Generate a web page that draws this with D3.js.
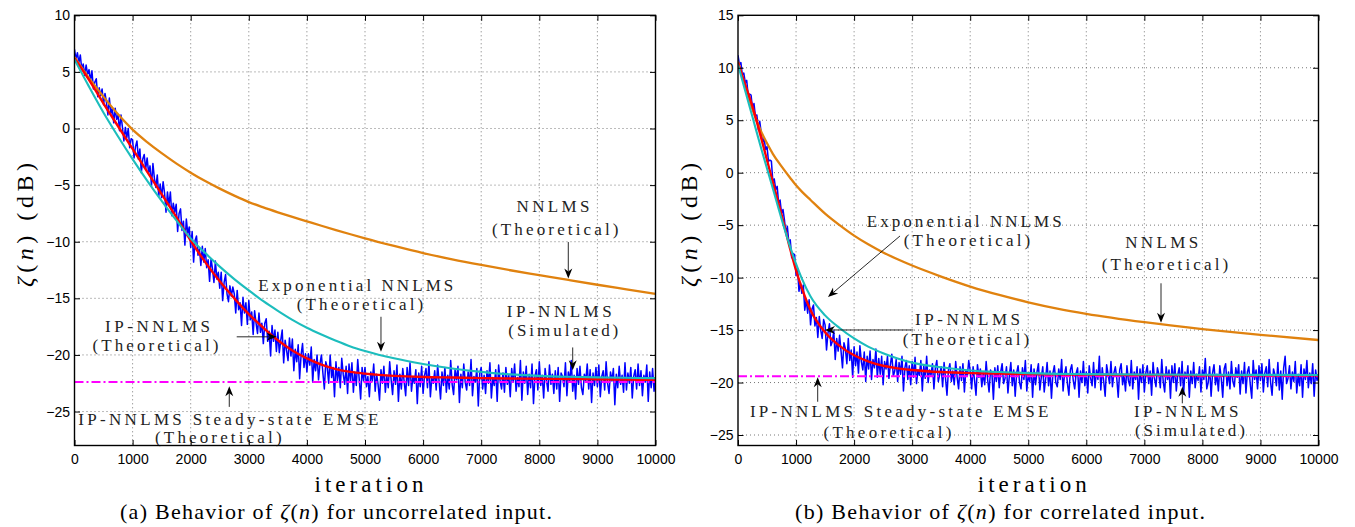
<!DOCTYPE html>
<html><head><meta charset="utf-8">
<script src="https://cdn.jsdelivr.net/npm/d3@7"></script>
<style>
body{margin:0;background:#fff;}
svg{display:block;}
</style></head><body>
<svg id="chart" width="1355" height="527"></svg>
<script>
// ---------------- DATA ----------------
const xTicks = [0,1000,2000,3000,4000,5000,6000,7000,8000,9000,10000];
const yTicksA = [10,5,0,-5,-10,-15,-20,-25];
const yTicksB = [15,10,5,0,-5,-10,-15,-20,-25];
const simStep = 25; // simulated curve sampled every 25 iterations

// Panel (a): uncorrelated input
const theoryIterA = [0,250,500,750,1000,1250,1500,1750,2000,2250,2500,2750,3000,3250,3500,3750,4000,4250,4500,4750,5000,5500,6000,6500,7000,7500,8000,8500,9000,9500,10000];
const nnlmsA = [6.3,4.45,2.8,1.25,-0.1,-1.2,-2.18,-3.08,-3.9,-4.64,-5.31,-5.93,-6.5,-6.97,-7.4,-7.81,-8.2,-8.59,-8.97,-9.34,-9.7,-10.37,-11.0,-11.55,-12.05,-12.52,-12.95,-13.38,-13.8,-14.2,-14.6];
const expNnlmsA = [6.1,3.7,1.4,-0.7,-2.7,-4.6,-6.4,-8.1,-9.7,-11.0,-12.2,-13.3,-14.3,-15.25,-16.1,-16.9,-17.6,-18.2,-18.75,-19.25,-19.65,-20.3,-20.8,-21.2,-21.5,-21.72,-21.85,-21.93,-21.98,-22.02,-22.05];
const ipNnlmsA = [6.2,4.3,2.2,0.2,-1.8,-3.8,-5.8,-7.8,-9.9,-11.8,-13.5,-15.0,-16.4,-17.6,-18.7,-19.6,-20.3,-20.85,-21.25,-21.5,-21.65,-21.85,-21.95,-22.0,-22.05,-22.08,-22.1,-22.13,-22.15,-22.18,-22.2];
const steadyA = -22.4;
const simA = [
7.0,6.1,6.7,5.8,6.5,5.2,5.7,4.7,5.6,4.8,
5.2,4.2,5.1,3.5,4.1,4.4,2.8,3.6,2.9,3.5,
2.1,3.1,2.3,1.2,2.7,1.3,1.8,0.5,1.8,0.8,
1.2,-0.2,1.2,0.1,-1.1,0.1,-0.8,0.0,-1.7,-0.9,
-1.0,-2.6,-1.6,-1.1,-2.7,-1.8,-3.9,-2.7,-2.3,-3.6,
-2.6,-3.9,-3.3,-5.1,-3.1,-4.4,-5.2,-4.1,-6.0,-4.9,
-6.1,-4.7,-5.7,-7.4,-5.6,-6.8,-5.6,-7.7,-6.6,-7.4,
-6.7,-9.1,-7.5,-7.1,-9.0,-8.2,-10.3,-8.0,-9.3,-8.7,
-10.5,-9.1,-11.8,-9.9,-9.5,-11.2,-10.6,-12.1,-10.4,-11.8,
-10.6,-12.3,-11.6,-13.5,-11.5,-12.4,-13.6,-11.7,-13.3,-12.7,
-14.1,-12.7,-15.2,-13.6,-12.9,-14.6,-15.3,-13.9,-14.8,-14.0,
-14.6,-16.3,-14.3,-16.0,-15.4,-17.4,-14.9,-16.3,-15.4,-17.3,
-15.2,-16.9,-16.2,-18.2,-16.1,-17.2,-18.1,-16.3,-18.0,-17.2,
-19.0,-17.2,-16.8,-18.8,-17.9,-20.1,-17.4,-18.8,-17.8,-19.7,
-18.0,-19.8,-18.7,-17.8,-20.7,-18.7,-19.6,-20.5,-18.5,-20.1,
-18.6,-21.4,-19.5,-20.6,-19.1,-22.1,-20.0,-19.0,-21.1,-19.9,
-21.5,-19.9,-20.9,-19.3,-22.4,-20.4,-21.4,-20.0,-22.2,-20.8,
-20.0,-21.6,-23.0,-20.6,-21.1,-22.5,-20.0,-22.0,-21.1,-23.7,
-20.6,-22.3,-21.1,-22.9,-20.3,-21.7,-22.6,-21.0,-23.4,-20.8,
-22.4,-20.7,-23.3,-21.5,-22.7,-20.4,-22.1,-23.9,-21.1,-22.3,
-21.1,-22.8,-21.9,-23.7,-21.5,-22.3,-20.8,-23.2,-21.7,-22.6,
-24.0,-21.3,-22.5,-21.0,-23.3,-21.8,-22.9,-20.6,-22.2,-23.5,
-21.4,-22.6,-20.9,-24.1,-21.7,-23.0,-21.2,-22.4,-23.6,-21.1,
-22.7,-20.7,-23.2,-21.9,-22.5,-21.3,-24.3,-21.6,-22.8,-21.0,
-23.4,-21.8,-21.2,-22.9,-20.6,-23.7,-22.0,-22.5,-21.4,-23.1,
-20.9,-22.3,-23.9,-21.5,-22.7,-21.1,-23.3,-21.8,-23.0,-20.5,
-22.6,-23.5,-21.3,-22.2,-21.0,-24.2,-21.7,-22.9,-20.8,-22.4,
-23.1,-21.5,-22.7,-20.4,-23.6,-21.9,-22.4,-21.2,-24.5,-21.6,
-21.1,-23.0,-21.8,-23.4,-21.4,-22.5,-20.7,-23.8,-22.0,-22.7,
-21.3,-24.1,-20.9,-22.3,-23.0,-21.6,-23.3,-21.1,-22.6,-21.8,
-23.7,-21.2,-22.4,-20.8,-23.2,-22.0,-22.8,-20.5,-24.0,-21.5,
-22.5,-21.0,-23.5,-21.7,-22.9,-20.8,-24.3,-21.9,-21.3,-23.1,
-20.6,-22.7,-21.8,-23.8,-21.2,-22.3,-23.2,-20.9,-22.6,-21.7,
-23.4,-21.4,-23.0,-21.1,-24.1,-21.6,-21.9,-22.8,-20.7,-23.6,
-21.5,-22.4,-20.5,-23.2,-21.8,-23.9,-21.2,-22.6,-21.0,-22.9,
-23.5,-21.7,-22.3,-20.8,-23.0,-21.3,-24.2,-21.6,-22.7,-21.1,
-22.8,-20.9,-23.7,-21.9,-21.4,-23.1,-20.6,-22.5,-23.4,-21.5,
-22.3,-21.2,-24.4,-21.7,-22.9,-21.0,-22.6,-21.8,-23.3,-20.7,
-23.1,-21.6,-22.5,-21.1,-23.8,-21.9,-21.3,-23.0,-20.8,-22.7,
-21.4,-23.6,-21.8,-22.4,-20.9,-24.1,-21.5,-22.9,-21.2,-23.2,
-22.0];

// Panel (b): correlated input
const theoryIterB = [0,100,250,400,500,600,750,900,1000,1100,1250,1500,1750,2000,2250,2500,2750,3000,3500,4000,4500,5000,5500,6000,7000,8000,9000,10000];
const nnlmsB = [10.6,8.7,6.0,3.9,2.8,1.8,0.6,-0.5,-1.2,-1.8,-2.6,-3.9,-5.0,-6.0,-6.85,-7.6,-8.25,-8.85,-9.9,-10.85,-11.65,-12.35,-12.95,-13.45,-14.25,-14.9,-15.45,-15.95];
const expNnlmsB = [10.3,8.3,5.3,2.3,0.4,-1.5,-4.4,-7.1,-8.7,-10.1,-11.8,-13.6,-14.8,-15.8,-16.6,-17.2,-17.7,-18.1,-18.55,-18.85,-19.0,-19.1,-19.17,-19.2,-19.24,-19.26,-19.27,-19.28];
const ipNnlmsB = [10.5,8.8,6.3,3.3,1.2,-0.9,-4.0,-7.3,-9.3,-11.0,-13.1,-15.2,-16.5,-17.4,-18.0,-18.4,-18.65,-18.8,-19.0,-19.1,-19.15,-19.2,-19.22,-19.25,-19.28,-19.3,-19.3,-19.3];
const steadyB = -19.4;
const simB = [
11.2,10.3,10.5,9.3,9.5,8.6,8.8,7.4,7.5,7.4,
6.1,6.6,5.4,5.5,4.1,4.9,3.8,2.9,3.3,2.2,
2.5,1.1,1.2,1.1,-0.8,-0.6,-1.6,-1.3,-2.9,-2.6,
-3.9,-3.5,-4.5,-5.8,-5.1,-6.6,-6.4,-8.1,-7.7,-7.8,
-9.8,-9.1,-11.3,-10.5,-11.5,-10.7,-13.1,-12.1,-13.4,-12.1,
-14.5,-13.0,-12.6,-14.6,-13.8,-15.7,-13.7,-15.0,-15.8,-14.0,
-14.5,-16.9,-15.3,-14.4,-16.5,-16.1,-15.1,-17.8,-15.8,-17.0,
-15.5,-17.0,-18.6,-16.2,-16.8,-18.2,-15.8,-17.9,-16.9,-19.5,
-16.6,-18.4,-17.1,-19.1,-16.5,-18.0,-18.8,-17.1,-19.9,-17.5,
-18.7,-17.0,-19.7,-17.8,-18.6,-16.8,-19.5,-17.7,-19.2,-17.5,
-20.2,-18.0,-18.7,-17.5,-19.6,-18.3,-17.3,-19.4,-18.9,-17.8,
-19.9,-18.1,-19.2,-17.5,-20.8,-18.6,-17.9,-19.7,-18.4,-20.2,
-18.0,-19.5,-17.6,-20.1,-18.8,-19.3,-17.9,-20.8,-18.4,-19.6,
-17.5,-20.0,-18.8,-19.3,-18.2,-20.6,-18.6,-17.9,-19.9,-19.2,
-18.5,-20.4,-18.1,-19.6,-21.2,-18.8,-18.2,-19.9,-18.9,-20.2,
-18.0,-19.5,-20.6,-18.5,-19.8,-18.2,-20.9,-18.8,-19.4,-17.9,
-18.9,-20.6,-18.5,-19.8,-21.2,-18.3,-19.5,-18.7,-20.4,-19.1,
-20.2,-18.0,-19.7,-20.9,-18.8,-19.2,-21.6,-18.6,-19.9,-18.4,
-20.5,-19.0,-18.2,-20.1,-19.6,-18.5,-21.0,-19.3,-18.1,-20.3,
-18.8,-21.3,-19.1,-18.4,-20.0,-20.6,-18.6,-19.7,-17.9,-20.8,
-19.2,-19.9,-18.3,-21.4,-18.7,-20.2,-19.0,-18.2,-20.7,-19.5,
-18.5,-20.9,-19.6,-18.1,-20.3,-18.9,-21.5,-19.1,-18.4,-20.0,
-20.4,-18.7,-19.7,-17.8,-20.8,-19.2,-18.5,-20.1,-21.2,-18.8,
-18.3,-19.8,-20.6,-19.1,-18.6,-21.4,-18.9,-20.0,-18.0,-20.3,
-19.0,-21.0,-18.4,-19.6,-20.3,-18.1,-20.5,-18.8,-19.7,-17.5,
-20.7,-18.6,-19.9,-21.3,-18.3,-19.2,-20.1,-18.0,-20.4,-19.1,
-18.5,-19.6,-21.4,-18.8,-18.2,-20.2,-19.3,-20.8,-18.4,-19.8,
-20.3,-17.9,-20.6,-19.0,-19.7,-18.5,-21.6,-18.7,-20.0,-18.3,
-20.9,-19.1,-18.4,-20.1,-18.9,-21.2,-18.1,-19.6,-20.4,-18.6,
-19.2,-20.5,-17.8,-19.9,-20.9,-18.5,-19.7,-18.8,-21.5,-18.4,
-20.0,-18.2,-20.8,-19.3,-18.6,-20.3,-18.0,-21.1,-19.0,-19.6,
-18.4,-21.4,-18.9,-20.1,-18.1,-20.5,-19.2,-19.8,-18.5,-20.9,
-18.8,-19.7,-17.7,-20.6,-20.0,-18.5,-21.3,-19.1,-18.3,-20.2,
-19.2,-20.8,-18.4,-19.6,-21.4,-18.7,-18.2,-20.3,-19.0,-20.6,
-18.0,-19.9,-20.4,-18.6,-19.5,-18.3,-21.1,-18.9,-20.1,-18.1,
-21.0,-19.0,-18.5,-20.2,-21.5,-17.9,-19.7,-18.8,-20.6,-18.4,
-19.8,-18.2,-20.9,-19.1,-18.5,-20.4,-17.8,-20.0,-21.2,-18.7,
-19.3,-20.3,-18.1,-20.7,-18.9,-21.6,-18.6,-17.5,-20.1,-19.6,
-18.4,-20.6,-19.0,-19.9,-18.0,-21.0,-19.2,-20.3,-18.3,-21.4,
-18.7,-19.7,-17.9,-20.5,-19.1,-20.1,-18.2,-21.3,-18.8,-19.8,
-19.4];

// Text
const xLabel = "iteration";
const captionA = ["(a) Behavior of ", "ζ", "(", "n", ") for uncorrelated input."];
const captionB = ["(b) Behavior of ", "ζ", "(", "n", ") for correlated input."];
const txtNN = "NNLMS", txtExp = "Exponential NNLMS", txtIP = "IP-NNLMS",
      txtTheo = "(Theoretical)", txtSim = "(Simulated)", txtSteady = "IP-NNLMS Steady-state EMSE";

// ---------------- DRAWING ----------------
const SERIF = "'Liberation Serif','DejaVu Serif','Times New Roman',Times,serif";
const SANS = "'Liberation Sans',Arial,Helvetica,sans-serif";
const svg = d3.select('#chart');
const yTop = 15.3, yBot = 445.5;
const colors = {nnlms:'#E0820F', exp:'#1CBDBD', ip:'#FF0000', sim:'#0000FF', steady:'#FF00FF'};

const panels = [
  {id:'a', x0:74.5, x1:655.5, yDomain:[-28,10], yTicks:yTicksA,
   iter:theoryIterA, nnlms:nnlmsA, exp:expNnlmsA, ip:ipNnlmsA, sim:simA, steady:steadyA,
   caption:captionA, capX:336, capW:432, labX:33,
   notes:[
     {lines:[[txtNN,8236,-7.41,73],[txtTheo,8275,-9.38,126.5]], arrow:[[8499,-10.03],[8499,-13.24]]},
     {lines:[[txtExp,4842,-14.34,195],[txtTheo,4914,-16.01,126.5]], arrow:[[5275,-16.63],[5275,-19.73]]},
     {lines:[[txtIP,8343,-16.63,105],[txtSim,8413,-18.37,110]], arrow:[[8575,-19.34],[8575,-21.35]]},
     {lines:[[txtIP,1429,-17.96,105],[txtTheo,1394,-19.69,126]], arrow:[[2792,-18.40],[3480,-18.40]]},
     {lines:[[txtSteady,2647,-26.21,300],[txtTheo,2475,-27.80,126.5]], arrow:[[2664,-24.59],[2664,-22.76]]}
   ]},
  {id:'b', x0:738, x1:1318.5, yDomain:[-26,15], yTicks:yTicksB,
   iter:theoryIterB, nnlms:nnlmsB, exp:expNnlmsB, ip:ipNnlmsB, sim:simB, steady:steadyB,
   caption:captionB, capX:1000, capW:410, labX:696.5,
   notes:[
     {lines:[[txtExp,3897,-5.15,195],[txtTheo,3945,-7.01,126.5]], arrow:[[2791,-6.03],[1550,-11.85]]},
     {lines:[[txtIP,3954,-14.52,105],[txtTheo,3928,-16.38,126.5]], arrow:[[3020,-14.99],[1499,-14.99]]},
     {lines:[[txtNN,7299,-7.21,73],[txtTheo,7356,-9.24,126.5]], arrow:[[7287,-10.54],[7287,-14.30]]},
     {lines:[[txtIP,7721,-23.25,104.5],[txtSim,7786,-25.12,110]], arrow:[[7654,-21.98],[7654,-20.40]]},
     {lines:[[txtSteady,2777,-23.25,298.5],[txtTheo,2575,-25.28,128]], arrow:[[1373,-21.83],[1373,-19.50]]}
   ]}
];

function drawArrow(g, x, y, a, b) {
  const x1 = x(a[0]), y1 = y(a[1]), x2 = x(b[0]), y2 = y(b[1]);
  const dx = x2-x1, dy = y2-y1, L = Math.hypot(dx,dy), ux = dx/L, uy = dy/L, nx = -uy, ny = ux;
  const hl = 10, hw = 4, notch = 7;
  g.append('line').attr('x1',x1).attr('y1',y1).attr('x2',x2-ux*notch).attr('y2',y2-uy*notch)
    .attr('stroke','#111').attr('stroke-width',0.9);
  g.append('path').attr('d',
    `M${x2},${y2}L${x2-ux*hl+nx*hw},${y2-uy*hl+ny*hw}L${x2-ux*notch},${y2-uy*notch}L${x2-ux*hl-nx*hw},${y2-uy*hl-ny*hw}Z`)
    .attr('fill','#000');
}

panels.forEach(p => {
  const g = svg.append('g');
  const x = d3.scaleLinear().domain([0,10000]).range([p.x0, p.x1]);
  const y = d3.scaleLinear().domain(p.yDomain).range([yBot, yTop]);

  // grid
  const grid = g.append('g').attr('stroke','#555').attr('stroke-width',0.8).attr('stroke-dasharray','1,3');
  xTicks.filter(t => t>0 && t<10000).forEach(t => grid.append('line')
      .attr('x1',x(t)).attr('x2',x(t)).attr('y1',yTop).attr('y2',yBot));
  p.yTicks.filter(t => t>p.yDomain[0] && t<p.yDomain[1]).forEach(t => grid.append('line')
      .attr('x1',p.x0).attr('x2',p.x1).attr('y1',y(t)).attr('y2',y(t)));

  // clip
  svg.append('clipPath').attr('id','clip'+p.id).append('rect')
    .attr('x',p.x0).attr('y',yTop).attr('width',p.x1-p.x0).attr('height',yBot-yTop);
  const plot = g.append('g').attr('clip-path',`url(#clip${p.id})`);

  const simLine = d3.line().x((d,i) => x(i*simStep)).y(d => y(d));
  plot.append('path').datum(p.sim).attr('d',simLine).attr('fill','none')
    .attr('stroke',colors.sim).attr('stroke-width',1.5).attr('stroke-linejoin','round');

  plot.append('line').attr('x1',x(0)).attr('x2',x(10000)).attr('y1',y(p.steady)).attr('y2',y(p.steady))
    .attr('stroke',colors.steady).attr('stroke-width',2).attr('stroke-dasharray','9,3,2,3');

  const th = d3.line().x((d,i) => x(p.iter[i])).y(d => y(d)).curve(d3.curveMonotoneX);
  [['nnlms',2.3],['ip',2.4],['exp',2.1]].forEach(([k,w]) => {
    plot.append('path').datum(p[k]).attr('d',th).attr('fill','none')
      .attr('stroke',colors[k]).attr('stroke-width',w).attr('stroke-linejoin','round');
  });

  // annotations
  p.notes.forEach(n => {
    n.lines.forEach(([s,cx,base,w]) => {
      g.append('text').attr('font-family',SERIF).attr('font-size',17).attr('fill','#222')
        .attr('x',x(cx)).attr('y',y(base))
        .attr('text-anchor','middle').attr('textLength',w).attr('lengthAdjust','spacing').text(s);
    });
    drawArrow(g, x, y, n.arrow[0], n.arrow[1]);
  });

  // axes (ticks inside, box)
  const fmt = d3.format('d');
  const axB = g.append('g').attr('transform',`translate(0,${yBot})`)
    .call(d3.axisBottom(x).tickValues(xTicks).tickFormat(fmt).tickSizeInner(-5.5).tickSizeOuter(0).tickPadding(8.5));
  const axL = g.append('g').attr('transform',`translate(${p.x0},0)`)
    .call(d3.axisLeft(y).tickValues(p.yTicks).tickFormat(fmt).tickSizeInner(-5.5).tickSizeOuter(0).tickPadding(4.5));
  const axT = g.append('g').attr('transform',`translate(0,${yTop})`)
    .call(d3.axisTop(x).tickValues(xTicks).tickFormat('').tickSizeInner(-5.5).tickSizeOuter(0));
  const axR = g.append('g').attr('transform',`translate(${p.x1},0)`)
    .call(d3.axisRight(y).tickValues(p.yTicks).tickFormat('').tickSizeInner(-5.5).tickSizeOuter(0));
  [axB,axL,axT,axR].forEach(a => {
    a.select('.domain').remove();
    a.attr('font-family',SANS).attr('font-size',14);
    a.selectAll('.tick text').attr('fill','#000');
    a.selectAll('.tick line').attr('stroke','#000').attr('stroke-width',1);
  });
  g.append('rect').attr('x',p.x0).attr('y',yTop).attr('width',p.x1-p.x0).attr('height',yBot-yTop)
    .attr('fill','none').attr('stroke','#000').attr('stroke-width',1.4);

  // y label
  const yl = g.append('text').attr('font-family',SERIF).attr('font-size',24).attr('fill','#000')
    .attr('transform',`translate(${p.labX},225) rotate(-90)`).attr('text-anchor','middle')
    .attr('textLength',124).attr('lengthAdjust','spacing');
  yl.append('tspan').attr('font-style','italic').text('ζ');
  yl.append('tspan').text('(');
  yl.append('tspan').attr('font-style','italic').text('n');
  yl.append('tspan').text(') (dB)');

  // x label
  g.append('text').attr('font-family',SERIF).attr('font-size',23).attr('fill','#000')
    .attr('x',(p.x0+p.x1)/2+4).attr('y',491.5).attr('text-anchor','middle')
    .attr('textLength',109).attr('lengthAdjust','spacing').text(xLabel);

  // caption
  const cap = g.append('text').attr('font-family',SERIF).attr('font-size',22).attr('fill','#000')
    .attr('x',p.capX).attr('y',519).attr('text-anchor','middle')
    .attr('textLength',p.capW).attr('lengthAdjust','spacing');
  p.caption.forEach((s,i) => cap.append('tspan').attr('font-style',(i===1||i===3)?'italic':null).text(s));
});
</script>
</body></html>
